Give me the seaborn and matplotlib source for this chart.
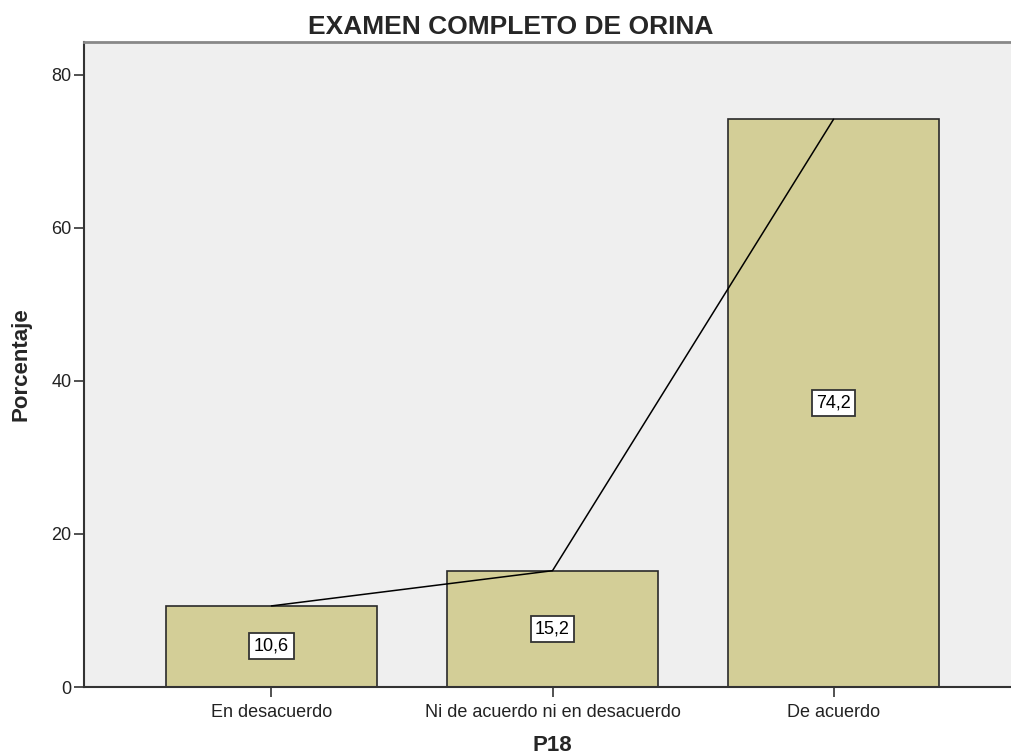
import matplotlib
matplotlib.use("Agg")
import matplotlib.pyplot as plt
import seaborn as sns
import pandas as pd

categories = ["En desacuerdo", "Ni de acuerdo ni en desacuerdo", "De acuerdo"]
percentages = [10.6, 15.2, 74.2]
yticks = [0, 20, 40, 60, 80]
title = "EXAMEN COMPLETO DE ORINA"
xlabel = "P18"
ylabel = "Porcentaje"

df = pd.DataFrame({"cat": categories, "pct": percentages})

sns.set_theme(style="white")
plt.rcParams["font.family"] = ["Liberation Sans", "DejaVu Sans"]

W, H = 1011, 755
fig = plt.figure(figsize=(W / 100, H / 100), dpi=100)
left, right, top, bottom = 84, 1021, 42, 687
ax = fig.add_axes([left / W, (H - bottom) / H, (right - left) / W, (bottom - top) / H])
ax.set_facecolor("#EFEFEF")

sns.barplot(data=df, x="cat", y="pct", order=categories, color="#D3CE97",
            saturation=1, width=0.75, edgecolor="#2A2A2A", linewidth=1.2, ax=ax, zorder=2)
sns.lineplot(data=df, x="cat", y="pct", color="black", linewidth=1.1, ax=ax,
             zorder=3, sort=False)

labels = [f"{v:.1f}".replace(".", ",") for v in percentages]
ax.bar_label(ax.containers[0], labels=labels, label_type="center", fontsize=13,
             color="black", zorder=4,
             bbox=dict(boxstyle="square,pad=0.25", facecolor="white",
                       edgecolor="#333333", linewidth=1.3))

ax.set_xlim(-0.667, 2.667)
ax.set_ylim(0, 84.3)
ax.set_yticks(yticks)
ax.set_yticklabels([str(t) for t in yticks])
ax.tick_params(axis="both", direction="out", length=7, width=1.2, color="#333333",
               labelsize=13, labelcolor="#222222", pad=2, left=True, bottom=True)
ax.tick_params(axis="x", pad=5)

for s in ["left", "bottom"]:
    ax.spines[s].set_color("#333333")
    ax.spines[s].set_linewidth(1.5)
ax.spines["top"].set_color("#888888")
ax.spines["top"].set_linewidth(2)
ax.spines["right"].set_visible(False)

ax.set_xlabel(xlabel, fontsize=16, fontweight="bold", labelpad=10)
ax.set_ylabel(ylabel, fontsize=16, fontweight="bold", labelpad=14)
fig.text(0.505, 1 - 27 / H, title, ha="center", va="center",
         fontsize=19, fontweight="bold")

fig.savefig("out.png", dpi=100)
